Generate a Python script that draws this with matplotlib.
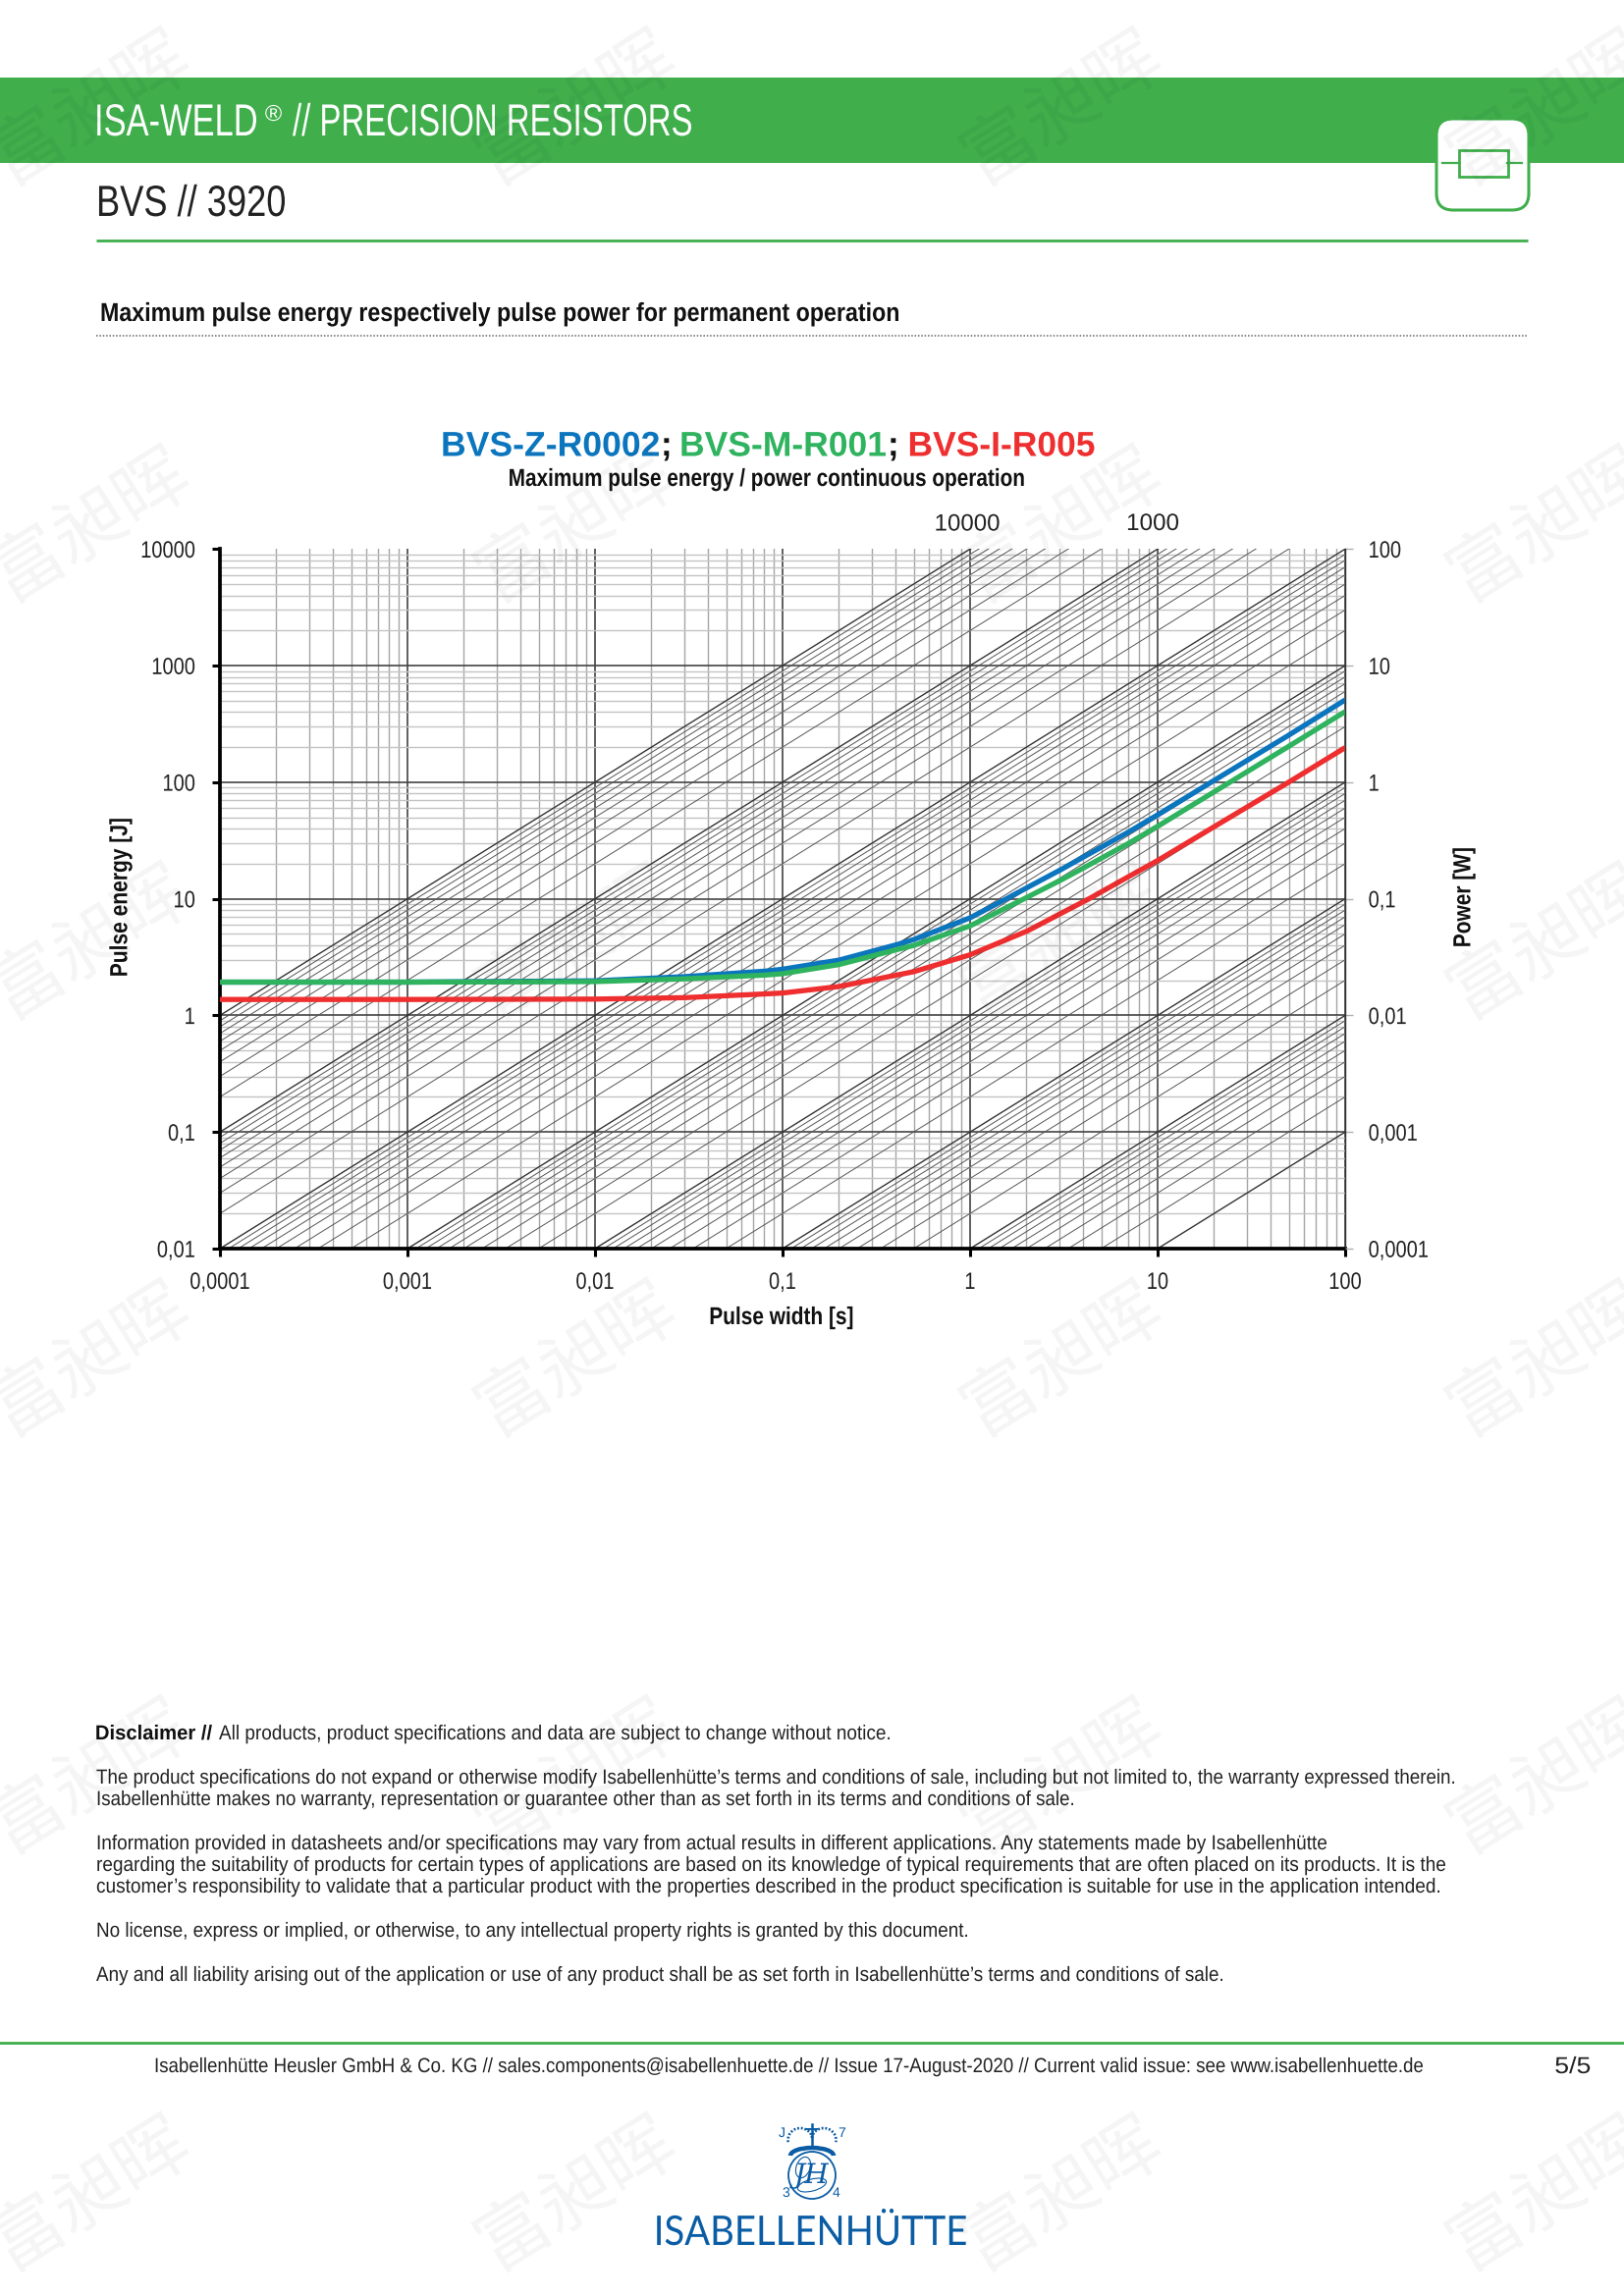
import numpy as np
import matplotlib
matplotlib.use("Agg")
import matplotlib.pyplot as plt
import matplotlib.ticker as mticker
from matplotlib.patches import FancyBboxPatch, Rectangle, Circle, Arc, Ellipse
from matplotlib.patheffects import AbstractPathEffect
from matplotlib.textpath import TextPath
from matplotlib.transforms import Affine2D, Bbox

plt.rcParams['text.hinting'] = 'no_hinting'
plt.rcParams['text.hinting_factor'] = 1

W, H = 1654, 2339
SANS = 'Liberation Sans'

# ---------- data ----------
x_blue = [0.0001, 0.001, 0.01, 0.03, 0.0815, 0.1, 0.2, 0.41, 0.5, 1, 1.56, 2, 3.03, 4, 7, 10, 19.3, 50, 100]
e_blue = [1.93, 1.93, 1.98, 2.15, 2.40, 2.49, 2.98, 4.06, 4.47, 6.87, 10, 12.4, 17.7, 22.7, 37.4, 52.5, 100, 253, 508]
x_green = [0.0001, 0.001, 0.01, 0.03, 0.0815, 0.1, 0.2, 0.41, 0.5, 1, 1.94, 3.03, 4, 7, 10, 24.3, 50, 100]
e_green = [1.93, 1.93, 1.95, 2.06, 2.22, 2.28, 2.73, 3.68, 3.98, 5.86, 10, 14.4, 18.3, 29.9, 41.9, 100, 203, 403]
x_red = [0.0001, 0.001, 0.01, 0.03, 0.0815, 0.1, 0.2, 0.5, 1, 2.03, 3.03, 4.3, 7, 10, 20, 50, 100]
e_red = [1.37, 1.37, 1.38, 1.42, 1.53, 1.556, 1.77, 2.37, 3.31, 5.32, 7.45, 10, 15.5, 21.3, 41.5, 100, 198]

x_ticks = [0.0001, 0.001, 0.01, 0.1, 1, 10, 100]
x_labels = ['0,0001', '0,001', '0,01', '0,1', '1', '10', '100']
y_ticks = [0.01, 0.1, 1, 10, 100, 1000, 10000]
y_labels = ['0,01', '0,1', '1', '10', '100', '1000', '10000']
p_ticks = [0.0001, 0.001, 0.01, 0.1, 1, 10, 100]
p_labels = ['0,0001', '0,001', '0,01', '0,1', '1', '10', '100']
power_decades = [0.001, 0.01, 0.1, 1, 10, 100, 1000]
power_steps = [1, 2, 3, 4, 5, 6, 7, 8, 9]
power_top = 10000

disclaimer_lines = [
    "All products, product specifications and data are subject to change without notice.",
    "The product specifications do not expand or otherwise modify Isabellenhütte’s terms and conditions of sale, including but not limited to, the warranty expressed therein.",
    "Isabellenhütte makes no warranty, representation or guarantee other than as set forth in its terms and conditions of sale.",
    "Information provided in datasheets and/or specifications may vary from actual results in different applications. Any statements made by Isabellenhütte",
    "regarding the suitability of products for certain types of applications are based on its knowledge of typical requirements that are often placed on its products. It is the",
    "customer’s responsibility to validate that a particular product with the properties described in the product specification is suitable for use in the application intended.",
    "No license, express or implied, or otherwise, to any intellectual property rights is granted by this document.",
    "Any and all liability arising out of the application or use of any product shall be as set forth in Isabellenhütte’s terms and conditions of sale.",
]
footer_text = ('Isabellenhütte Heusler GmbH & Co. KG // sales.components@isabellenhuette.de // '
               'Issue 17-August-2020 // Current valid issue: see www.isabellenhuette.de')

GREEN = '#3fae4b'
BLUE = '#0b75be'
CG = '#2fb35e'
RED = '#ee2e2f'
LOGO = '#0a5ca4'
TXT = '#222222'
DARK = '#111111'

fig = plt.figure(figsize=(W / 100, H / 100), dpi=100, facecolor='white')


class Squeeze(AbstractPathEffect):
    """Draws a real text narrower: the installed fonts have no condensed cut."""
    def __init__(self, s, anchor):
        super().__init__()
        self.s, self.anchor = s, anchor

    def draw_path(self, renderer, gc, tpath, affine, rgbFace=None):
        v = tpath.vertices
        if len(v) == 0:
            return
        a = {'left': 0.0, 'right': v[:, 0].max(),
             'center': 0.5 * (v[:, 0].min() + v[:, 0].max())}[self.anchor]
        t = Affine2D().translate(-a, 0).scale(self.s, 1).translate(a, 0)
        renderer.draw_path(gc, tpath, t + affine, rgbFace)


def squeeze(t, s):
    anchor = t.get_ha()
    t.set_path_effects([Squeeze(s, anchor)])
    rot = t.get_rotation() % 180 == 90
    orig = t.get_window_extent

    def extent(renderer=None, dpi=None):
        b = orig(renderer, dpi)
        x0, y0, x1, y1 = b.x0, b.y0, b.x1, b.y1
        if rot:
            c = 0.5 * (y0 + y1)
            y0, y1 = c + (y0 - c) * s, c + (y1 - c) * s
        elif anchor == 'left':
            x1 = x0 + (x1 - x0) * s
        elif anchor == 'right':
            x0 = x1 - (x1 - x0) * s
        else:
            c = 0.5 * (x0 + x1)
            x0, x1 = c + (x0 - c) * s, c + (x1 - c) * s
        return Bbox.from_extents(x0, y0, x1, y1)

    t.get_window_extent = extent
    return t


def fit(t, width):
    v = TextPath((0, 0), t.get_text(), size=t.get_fontsize(), prop=t.get_fontproperties()).vertices
    size = (v[:, 0].max() - v[:, 0].min()) * fig.dpi / 72
    return squeeze(t, width / size)


# ---------- page ----------
page = fig.add_axes([0, 0, 1, 1], zorder=0)
page.set_xlim(0, W); page.set_ylim(H, 0); page.axis('off')


def label(x, y, s, width, size, color=TXT, weight='normal', ha='left', rotation=0, family=SANS, va='baseline'):
    t = page.text(x, y, s, color=color, family=family, weight=weight, fontsize=size, ha=ha, va=va,
                  rotation=rotation, rotation_mode='anchor' if rotation == 0 else 'default')
    return fit(t, width)


page.add_patch(Rectangle((0, 79), W, 87, color=GREEN, lw=0))
label(264, 138, 'ISA-WELD', 165, 33, color='white', ha='right')
label(278.5, 123, '®', 17, 16.6, color='white', ha='center')
label(298, 138, '// PRECISION RESISTORS', 406, 33, color='white')
label(98, 220, 'BVS // 3920', 192, 32)
page.plot([98, 1556], [245, 245], color=GREEN, lw=2.0, solid_capstyle='butt')
page.add_patch(FancyBboxPatch((1476, 134), 68, 67, boxstyle='round,pad=13,rounding_size=17',
                              fc='white', ec=GREEN, lw=2.2, zorder=3))
page.add_patch(Rectangle((1485.5, 153), 50, 27, fc='none', ec=GREEN, lw=2, zorder=5))
page.plot([1469, 1485], [166, 166], color=GREEN, lw=1.6, zorder=5)
page.plot([1535, 1550], [166, 166], color=GREEN, lw=1.6, zorder=5)

label(102, 327, 'Maximum pulse energy respectively pulse power for permanent operation', 813, 19,
      color=DARK, weight='bold')
page.plot([98, 1556], [341.5, 341.5], color='#666666', lw=1.1, ls=(0, (1, 1.2)))

for xp, s, wd, c in [(449, 'BVS-Z-R0002', 222, BLUE), (692, 'BVS-M-R001', 210, CG), (924.5, 'BVS-I-R005', 190, RED)]:
    label(xp, 464.5, s, wd, 25.5, color=c, weight='bold')
for xp in (672.5, 904):
    page.text(xp, 464.5, ';', color=DARK, family=SANS, weight='bold', fontsize=25.5, va='baseline', ha='left')
label(781, 495, 'Maximum pulse energy / power continuous operation', 525, 18, color=DARK, weight='bold', ha='center')
label(985, 540.5, '10000', 66, 17.3, ha='center')
label(1174, 540, '1000', 53, 17.3, ha='center')
label(123, 914, 'Pulse energy [J]', 161, 18, color=DARK, weight='bold', ha='center', rotation=90, va='center')
label(1491, 914, 'Power [W]', 101, 18, color=DARK, weight='bold', ha='center', rotation=90, va='center')
label(796, 1349, 'Pulse width [s]', 146, 18, color=DARK, weight='bold', ha='center')

# ---------- chart ----------
L, R, T, B = 224, 1370, 559.3, 1272
ax = fig.add_axes([L / W, 1 - B / H, (R - L) / W, (B - T) / H], zorder=2)
ax.patch.set_alpha(0)
ax.set_xscale('log'); ax.set_yscale('log')
ax.set_xlim(x_ticks[0], x_ticks[-1]); ax.set_ylim(y_ticks[0], y_ticks[-1])
ax.set_xticks(x_ticks); ax.set_xticklabels(x_labels)
ax.set_yticks(y_ticks); ax.set_yticklabels(y_labels)
ax.xaxis.set_minor_locator(mticker.LogLocator(10, subs=np.arange(2, 10), numticks=20))
ax.yaxis.set_minor_locator(mticker.LogLocator(10, subs=np.arange(2, 10), numticks=20))
ax.xaxis.set_minor_formatter(mticker.NullFormatter())
ax.yaxis.set_minor_formatter(mticker.NullFormatter())
ax.tick_params(which='minor', length=0)
ax.tick_params(axis='x', which='major', length=6, width=2.2, pad=11, labelsize=17.3, labelcolor=TXT)
ax.tick_params(axis='y', which='major', length=6, width=2.2, pad=12, labelsize=17.3, labelcolor=TXT)
for t in ax.get_xticklabels() + ax.get_yticklabels():
    t.set_family(SANS)
    squeeze(t, 0.835)
ax.grid(True, axis='x', which='minor', color='#a6a6a6', lw=1.0)
ax.grid(True, axis='y', which='minor', color='#c4c4c4', lw=1.0)
ax.grid(True, which='major', color='#444444', lw=1.2)
ax.yaxis.get_gridlines()[-1].set_visible(False)
ax.set_axisbelow(True)

xs = np.array(x_ticks)[[0, -1]]
for dec in power_decades:
    for k in power_steps:
        ax.plot(xs, dec * k * xs, color='#333333' if k == 1 else '#555555',
                lw=1.0 if k == 1 else 0.7, zorder=1.5)
ax.plot(xs, power_top * xs, color='#333333', lw=1.0, zorder=1.5)

for xv, ev, col, z in [(x_blue, e_blue, BLUE, 3), (x_green, e_green, CG, 3.1), (x_red, e_red, RED, 3.2)]:
    ax.plot(xv, ev, color=col, lw=3.8, zorder=z, solid_capstyle='butt', solid_joinstyle='round', clip_on=False)

ax.spines['top'].set_visible(False)
ax.spines['right'].set_visible(False)
ax.spines['left'].set_linewidth(2.7)
ax.spines['bottom'].set_linewidth(2.7)

ax2 = ax.twinx()
ax2.patch.set_alpha(0)
ax2.set_yscale('log')
ax2.set_ylim(p_ticks[0], p_ticks[-1])
ax2.set_yticks(p_ticks); ax2.set_yticklabels(p_labels)
ax2.yaxis.set_minor_locator(mticker.NullLocator())
ax2.tick_params(axis='y', which='major', length=6, width=1.0, color='#b0b0b0', pad=11, labelsize=17.3, labelcolor=TXT)
for t in ax2.get_yticklabels():
    t.set_family(SANS)
    squeeze(t, 0.835)
for s in ['top', 'left', 'bottom']:
    ax2.spines[s].set_visible(False)
ax2.spines['right'].set_linewidth(1.0)
ax2.spines['right'].set_color('#333333')

# ---------- disclaimer ----------
DS = 15
label(217, 1772, 'Disclaimer //', 119, DS, color=DARK, weight='bold', ha='right')
layout = [(223, 1772, 683), (98, 1817, 1383), (98, 1839, 995), (98, 1884, 1253),
          (98, 1906, 1374), (98, 1928, 1368), (98, 1973, 887), (98, 2018, 1147)]
for (xp, yp, wd), s in zip(layout, disclaimer_lines):
    label(xp, yp, s, wd, DS)

page.plot([0, W], [2081, 2081], color=GREEN, lw=2.0)
label(157, 2111, footer_text, 1292, DS)
label(1602, 2112, '5/5', 36, 17, ha='center')

# ---------- logo ----------
label(827, 2287, 'ISABELLENHÜTTE', 318, 30, color=LOGO, family='Lato', ha='center')
page.add_patch(Circle((827, 2216), 24, fc='none', ec=LOGO, lw=1.3))
page.add_patch(Arc((827, 2196), 44, 16, theta1=180, theta2=360, ec=LOGO, lw=3.2))
page.add_patch(Arc((815, 2180), 25, 24, theta1=170, theta2=350, ec=LOGO, lw=1.9, ls=(0, (0.7, 0.7))))
page.add_patch(Arc((839, 2180), 25, 24, theta1=190, theta2=370, ec=LOGO, lw=1.9, ls=(0, (0.7, 0.7))))
page.plot([827, 827], [2164, 2185], color=LOGO, lw=1.8)
page.plot([822, 832], [2169, 2169], color=LOGO, lw=1.4)
page.text(827, 2216, 'JH', color=LOGO, family='DejaVu Serif', style='italic', fontsize=20, va='center', ha='center')
page.add_patch(Ellipse((827, 2226), 30, 12, angle=-15, fc='none', ec=LOGO, lw=0.8))
page.add_patch(Ellipse((818, 2208), 14, 22, angle=20, fc='none', ec=LOGO, lw=0.8))
for xp, yp, s in [(796, 2173, 'J'), (857, 2173, '7'), (800, 2234, '3'), (852, 2234, '4')]:
    page.text(xp, yp, s, color=LOGO, family=SANS, fontsize=10, va='center', ha='center')

# ---------- watermark ----------
wm = fig.add_axes([0, 0, 1, 1], zorder=10)
wm.set_xlim(0, W); wm.set_ylim(H, 0); wm.axis('off'); wm.patch.set_alpha(0)
wm_x = [93, 588, 1083, 1578]
wm_y = [110, 535, 960, 1385, 1810, 2235]
for yy in wm_y:
    for xx in wm_x:
        wm.text(xx, yy, '富昶晖', color='black', alpha=0.045, family='Noto Sans CJK SC', fontsize=54,
                rotation=32, ha='center', va='center', clip_on=True)

fig.savefig('out.png', dpi=100)
